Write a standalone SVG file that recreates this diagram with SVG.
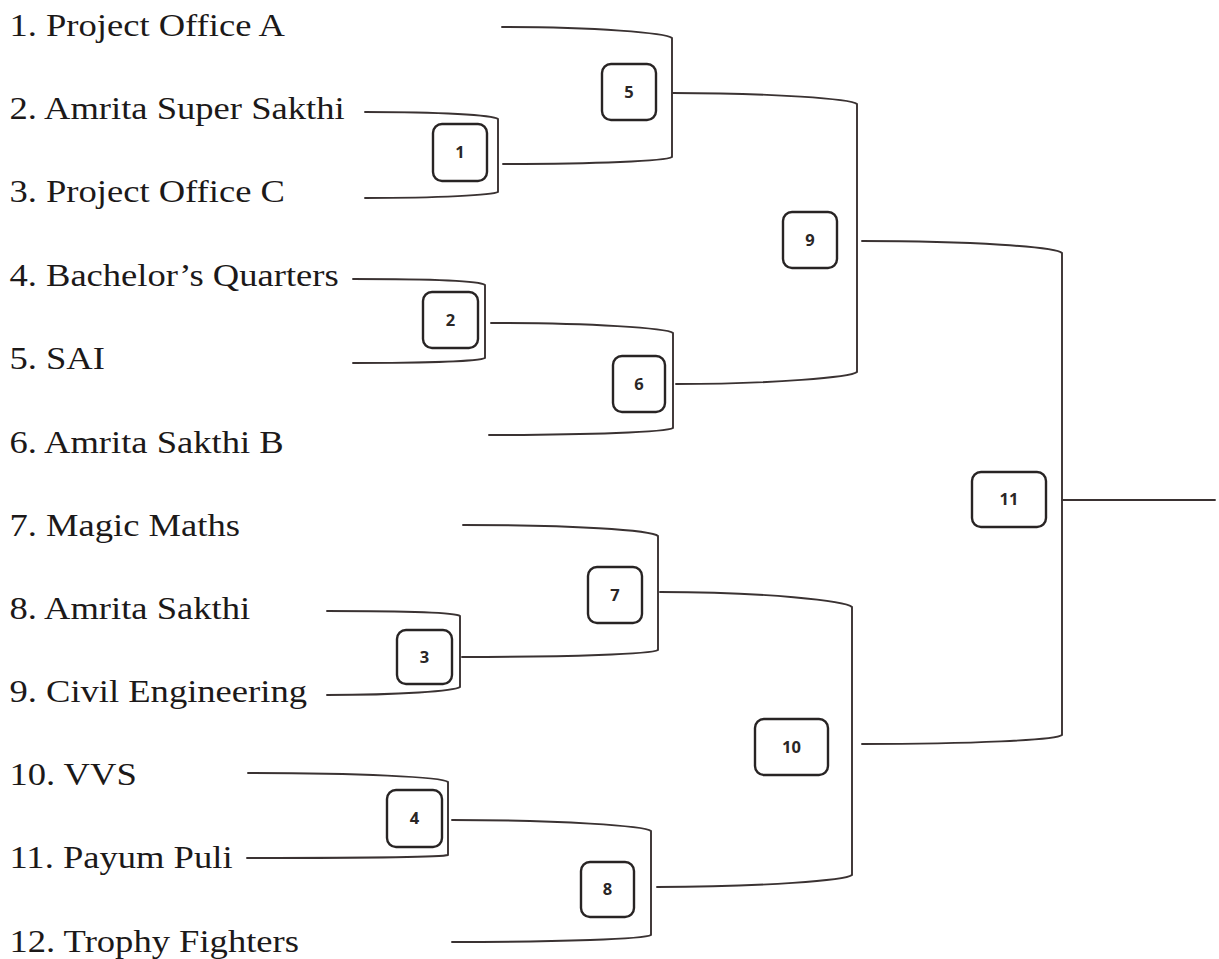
<svg xmlns="http://www.w3.org/2000/svg" width="1219" height="959" viewBox="0 0 1219 959">
<style>
.team{font-family:"Liberation Serif","Times New Roman",serif;font-size:31px;fill:#1c1919}
.ln{fill:none;stroke:#3a3232;stroke-width:1.9;stroke-linecap:round;stroke-linejoin:round}
.box{fill:#fff;stroke:#282424;stroke-width:2.4}
.num{font-family:"Open Sans","Liberation Sans",sans-serif;font-size:16.5px;font-weight:700;fill:#2a2626;text-anchor:middle}
</style>
<rect width="1219" height="959" fill="#fff"/>
<g id="teams" transform="scale(1.18,1)">
<text class="team" x="8" y="36">1. Project Office A</text>
<text class="team" x="8" y="119">2. Amrita Super Sakthi</text>
<text class="team" x="8" y="202">3. Project Office C</text>
<text class="team" x="8" y="286">4. Bachelor’s Quarters</text>
<text class="team" x="8" y="369">5. SAI</text>
<text class="team" x="8" y="453">6. Amrita Sakthi B</text>
<text class="team" x="8" y="536">7. Magic Maths</text>
<text class="team" x="8" y="619">8. Amrita Sakthi</text>
<text class="team" x="8" y="702">9. Civil Engineering</text>
<text class="team" x="8" y="785">10. VVS</text>
<text class="team" x="8" y="868">11. Payum Puli</text>
<text class="team" x="8" y="952">12. Trophy Fighters</text>
</g>
<g id="connectors">
<path id="b1" class="ln" d="M365,112 C440,112 493,115 498,119 L498,192 C493,195 440,198 365,198"/>
<path id="b5" class="ln" d="M502,27 C596,27 666,33 672,38 L672,157 C666,161 596,164 503,164"/>
<path id="b2" class="ln" d="M353,279 C426,279 480,281 485,285 L485,358 C480,361 426,363 353,363"/>
<path id="b6" class="ln" d="M491,323 C591,323 667,328 673,333 L673,428 C667,432 589,435 489,435"/>
<path id="b9" class="ln" d="M673,93 C774,93 851,99 857,104 L857,372 C851,377 775,384 676,384"/>
<path id="b3" class="ln" d="M327,611 C400,611 455,612 460,616 L460,687 C455,691 400,695 327,695"/>
<path id="b7" class="ln" d="M463,525 C571,525 652,530 658,536 L658,650 C652,654 571,657 462,657"/>
<path id="b10" class="ln" d="M660,592 C766,592 846,601 852,607 L852,875 C846,880 765,887 657,887"/>
<path id="b4" class="ln" d="M248,773 C358,773 443,777 448,782 L448,855 C443,857 357,858 247,858"/>
<path id="b8" class="ln" d="M452,820 C561,820 645,826 651,831 L651,935 C645,939 561,942 452,942"/>
<path id="b11" class="ln" d="M862,241 C972,241 1056,247 1062,253 L1062,735 C1056,740 972,744 862,744"/>
<path id="final" class="ln" d="M1062,500 L1215,500"/>
</g>
<g id="m1"><rect class="box" x="433" y="124" width="54" height="57" rx="9"/><text class="num" x="460" y="158">1</text></g>
<g id="m2"><rect class="box" x="423" y="292" width="55" height="56" rx="9"/><text class="num" x="450.5" y="326">2</text></g>
<g id="m3"><rect class="box" x="397" y="630" width="55" height="54" rx="9"/><text class="num" x="424.5" y="663">3</text></g>
<g id="m4"><rect class="box" x="387" y="790" width="55" height="57" rx="9"/><text class="num" x="414.5" y="824">4</text></g>
<g id="m5"><rect class="box" x="602" y="64" width="54" height="56" rx="9"/><text class="num" x="629" y="98">5</text></g>
<g id="m6"><rect class="box" x="613" y="356" width="52" height="56" rx="9"/><text class="num" x="639" y="390">6</text></g>
<g id="m7"><rect class="box" x="588" y="567" width="54" height="56" rx="9"/><text class="num" x="615" y="601">7</text></g>
<g id="m8"><rect class="box" x="581" y="862" width="53" height="55" rx="9"/><text class="num" x="607.5" y="895">8</text></g>
<g id="m9"><rect class="box" x="783" y="212" width="54" height="56" rx="9"/><text class="num" x="810" y="246">9</text></g>
<g id="m10"><rect class="box" x="755" y="719" width="73" height="56" rx="9"/><text class="num" x="791.5" y="753">10</text></g>
<g id="m11"><rect class="box" x="972" y="472" width="74" height="55" rx="9"/><text class="num" x="1009" y="505">11</text></g>
</svg>
